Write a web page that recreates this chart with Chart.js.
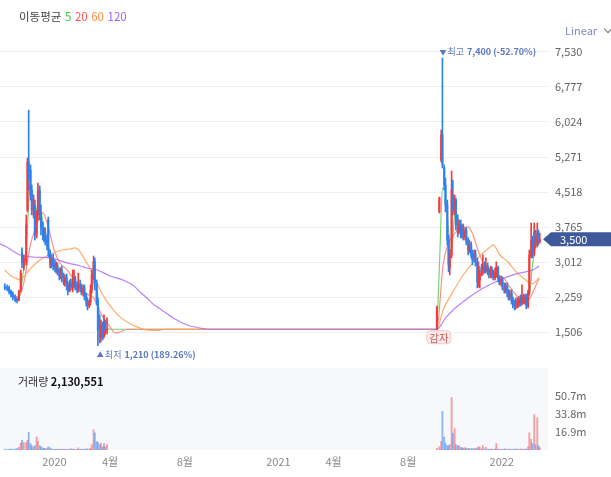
<!DOCTYPE html>
<html><head><meta charset="utf-8">
<script src="https://cdn.jsdelivr.net/npm/chart.js@4.4.1/dist/chart.umd.min.js"></script>
<style>
html,body{margin:0;padding:0;background:#fff;}
#wrap{position:relative;width:611px;height:477px;overflow:hidden;font-family:'Noto Sans CJK KR','Noto Sans',sans-serif;}
canvas{position:absolute;left:0;}
#pc{top:0;}
#vc{top:368px;}
#hdr{position:absolute;left:19px;top:8px;font-size:11.5px;color:#444;line-height:16px;white-space:nowrap;word-spacing:1px;}
#lin{position:absolute;left:565px;top:22px;font-size:11px;color:#7d8cb8;line-height:16px;white-space:nowrap;}
.chev{display:inline-block;width:5px;height:5px;border-right:1px solid #777;border-bottom:1px solid #777;transform:rotate(45deg);margin-left:8px;vertical-align:3px;}
#vh{position:absolute;left:18px;top:373px;font-size:11px;color:#333;line-height:16px;white-space:nowrap;}
#vh b{color:#111;font-weight:700;}
</style></head>
<body>
<div id="wrap">
<canvas id="pc" width="611" height="368"></canvas>
<canvas id="vc" width="611" height="109"></canvas>
<div id="hdr">이동평균 <span style="color:#44c844">5</span> <span style="color:#ff5252">20</span> <span style="color:#ff8c40">60</span> <span style="color:#9a66ff">120</span></div>
<div id="lin">Linear<span class="chev"></span></div>
<div id="vh">거래량 <b>2,130,551</b></div>
</div>
<script>
// ---- data: trading day = days since 2020-01-01 ----
const candleDays = [-81,-77,-74,-71,-68,-64,-61,-58,-55,-53,-50,-46,-44,-42,-39,-37,-34,-32,-29,-27,-24,-22,-19,-17,-15,-12,-10,-7,-5,-2,1,3,5,8,10,12,15,17,20,22,25,27,30,32,34,37,39,42,44,47,49,52,54,57,59,61,64,66,69,71,74,76,79,81,83,86,
625,629,632,634,637,639,642,644,646,649,651,654,656,659,661,664,666,668,671,673,676,678,681,683,686,688,691,693,695,698,700,703,705,708,710,713,715,717,720,722,725,727,730,732,735,737,740,742,744,747,749,752,754,757,759,762,764,767,769,771,774,776,779,781,784,786,789,791,793];
const openP = [2495,2475,2455,2370,2325,2260,2220,2195,2410,3230,2925,3015,4130,5165,4990,4560,4025,4240,3595,4025,4560,4090,3745,3530,3660,3485,3915,3230,2950,3100,2970,2840,2925,2820,2690,2840,2690,2560,2670,2520,2410,2560,2455,2520,2650,2520,2410,2540,2475,2345,2455,2280,2175,2065,2155,2410,2710,3015,2540,2195,1660,1380,1660,1420,1725,1530,
1565,4090,5205,5745,5035,4670,4240,3485,2885,3165,4455,4090,4345,3810,3660,3830,3595,3745,3550,3680,3445,3270,3380,3165,3055,3185,3015,2540,2625,2885,2775,2925,2820,2925,2820,2710,2840,2755,2670,2755,2885,2650,2540,2650,2475,2390,2495,2325,2240,2345,2195,2090,2045,2175,2090,2220,2130,2260,2155,2240,2065,2345,3140,3485,3185,3660,3380,3615,3445];
const highP = [2540,2520,2495,2410,2370,2305,2240,2410,2840,3315,3165,4025,5250,6280,5100,4670,4455,4345,4130,4710,4650,4240,3875,3745,3745,3595,3980,3270,3165,3185,3055,3015,2990,2885,2885,2925,2775,2735,2755,2585,2625,2650,2840,2840,2710,2585,2775,2625,2540,2520,2520,2345,2240,2195,2520,2840,3140,3100,2625,2240,1875,1765,1725,1875,1765,1810,
2065,4410,5850,7400,5100,4820,4345,3595,3270,4970,4775,4455,4390,4025,3915,3915,3810,3830,3745,3745,3530,3485,3445,3270,3270,3270,3100,3015,2840,2970,3165,3015,3100,2990,2885,2925,2905,2840,2885,3015,2925,2710,2710,2690,2560,2560,2560,2410,2410,2410,2260,2195,2240,2240,2280,2305,2520,2325,2305,2325,2410,3270,3850,3570,3850,3700,3850,3700,3635];
const lowP = [2410,2390,2325,2260,2195,2155,2130,2175,2370,2885,2840,2950,4090,4560,4345,4025,3960,3485,3530,3915,3915,3595,3485,3445,3380,3270,3120,2885,2885,2840,2800,2775,2735,2625,2650,2585,2520,2495,2410,2305,2370,2410,2370,2455,2410,2345,2370,2370,2305,2280,2195,2065,1980,2025,2090,2345,2625,2410,2090,1210,1270,1295,1335,1380,1445,1465,
1565,4065,5165,5035,4560,4090,3380,2800,2735,3100,4025,4025,3700,3550,3615,3530,3530,3485,3485,3380,3165,3205,3100,2950,3015,2925,2455,2475,2455,2710,2735,2775,2775,2735,2670,2670,2670,2625,2625,2690,2585,2520,2495,2410,2345,2345,2260,2195,2195,2110,2025,1980,2005,2025,2045,2065,2090,2110,2110,2005,2025,2300,3100,3100,3140,3315,3335,3380,3420];
const closeP = [2455,2435,2370,2305,2240,2195,2175,2370,2775,3015,3100,3810,5165,4775,4455,4130,4345,3595,4025,4560,4025,3745,3595,3660,3445,3355,3270,2970,3100,2925,2885,2950,2800,2710,2820,2670,2585,2670,2495,2390,2560,2475,2585,2670,2495,2410,2540,2455,2370,2455,2280,2155,2065,2155,2410,2735,3015,2560,2195,1550,1380,1660,1420,1725,1530,1565,
2025,4390,5745,5100,4670,4240,3485,2950,3165,4560,4130,4345,3810,3660,3830,3615,3745,3570,3680,3445,3270,3400,3165,3055,3205,3015,2585,2925,2775,2800,2925,2840,2925,2800,2735,2840,2735,2690,2800,2885,2650,2560,2650,2475,2410,2495,2325,2260,2345,2175,2090,2045,2175,2090,2220,2130,2260,2175,2240,2065,2345,3165,3485,3185,3660,3400,3615,3465,3500];
// volume in millions of shares
const volumeM = [0.8,0.6,0.7,0.9,0.8,1.0,1.5,2.5,6.5,9,7,6.7,9,16.6,6,4,3,4,12.3,8,4,3,2,1.5,1.5,1.2,3,2,1,0.8,0.7,0.6,0.8,0.7,0.6,0.7,0.8,0.6,0.7,0.6,0.7,1.2,0.9,0.7,0.6,0.6,2,0.7,0.6,0.8,0.7,0.9,1.0,0.8,1.5,5,19,16,8,7,5,6.5,3,6,3,5,
1.5,3,8,36,12,6,4,4,5,49,15.7,20,5,4,4,2.5,2,1.8,2.2,1.5,1.6,1.4,1.2,1.3,1.6,1.2,2,3,2.5,1,4,1,2.5,0.8,0.7,1,0.6,0.7,1,6,0.9,0.6,0.8,0.6,0.7,1.2,0.6,0.5,0.9,0.6,0.7,0.8,1.0,0.6,0.8,0.7,1.2,0.6,0.8,0.9,3,16,10,6,33,5,30,4,2.130551];
// moving averages
const ma5Days = [-81,-73,-64,-59,-55,-50,-46,-43,-40,-37,-32,-27,-22,-17,-12,-7,-2,4,11,17,24,30,37,43,50,57,61,66,70,73,76,79,83,88,92,623,625,627,630,634,638,641,644,647,650,653,656,659,664,669,674,679,684,689,695,702,708,715,721,728,735,741,748,754,761,767,772,777,782,787,792];
const ma5 = [2476,2411,2261,2196,2411,2884,3271,4024,4669,4562,4239,4132,4089,3744,3486,3228,3013,2884,2755,2626,2476,2540,2497,2454,2325,2153,2368,2669,2411,1938,1551,1486,1551,1572,1565,1565,1660,2196,3271,4600,4560,4200,3700,3250,3379,3900,4100,3960,3809,3658,3529,3314,3099,3013,2884,2884,2841,2798,2712,2626,2540,2411,2261,2153,2153,2153,2132,2411,3013,3379,3529];
const ma20Days = [-81,-73,-64,-56,-48,-40,-32,-24,-19,-10,-2,9,21,30,42,53,63,71,79,91,99,107,119,623,625,635,643,655,666,676,684,692,702,712,723,735,744,754,764,772,779,785,792];
const ma20 = [2476,2368,2261,2304,2691,3336,3701,3981,4067,3766,3336,2992,2841,2669,2476,2325,2261,2046,1831,1615,1486,1507,1565,1565,1572,2948,3379,3637,3744,3766,3594,3271,2948,2820,2755,2648,2476,2304,2153,2153,2282,2454,2669];
const ma60Days = [-81,-73,-64,-56,-45,-35,-19,-2,14,25,34,42,50,58,66,75,83,91,107,128,151,168,181,623,625,635,651,668,684,700,712,717,728,741,753,764,774,781,787,792];
const ma60 = [2841,2733,2669,2626,2777,2927,3099,3206,3271,3292,3314,3228,3056,2884,2669,2411,2218,2067,1831,1658,1551,1540,1565,1565,1565,1981,2368,2733,2992,3206,3336,3379,3163,3013,2820,2691,2583,2540,2605,2669];
const ma120Days = [-89,-81,-56,-35,-7,21,42,53,70,91,107,119,128,140,151,161,173,194,217,238,249,623,625,639,655,674,695,717,740,761,777,785,792];
const ma120 = [3400,3357,3163,3120,3099,2992,2927,2884,2841,2712,2648,2583,2519,2368,2239,2110,2003,1809,1658,1593,1565,1565,1565,1809,2024,2218,2411,2562,2691,2777,2820,2863,2927];
// axis ticks
const priceTicks = [1506,2259,3012,3765,4518,5271,6024,6777,7530];
const priceTickLabels = ['1,506','2,259','3,012','3,765','4,518','5,271','6,024','6,777','7,530'];
const volTicks = [16.9,33.8,50.7];
const volTickLabels = ['16.9m','33.8m','50.7m'];
const timeTickDays = [0,91,213,366,456,578,731];
const timeTickLabels = ['2020','4월','8월','2021','4월','8월','2022'];
const maNames = ['5','20','60','120'];

// ---- rendering ----
const FONT = "'Noto Sans CJK KR','Noto Sans',sans-serif";
Chart.defaults.font.family = FONT;
const RED = '#ef3d3d', BLUE = '#2d82f2';
const X_MIN = -88.9, X_MAX = 806.5;
const P_MIN = 861, P_MAX = 7788, V_MAX = 76.5;
const isUp = i => closeP[i] >= openP[i];
const candleColor = c => isUp(c.dataIndex) ? RED : BLUE;

const maDefs = [
  {days: ma5Days, vals: ma5, color: 'rgba(95,205,95,0.85)'},
  {days: ma20Days, vals: ma20, color: 'rgba(255,115,115,0.8)'},
  {days: ma60Days, vals: ma60, color: 'rgba(255,160,80,0.85)'},
  {days: ma120Days, vals: ma120, color: 'rgba(170,110,255,0.85)'}
];

function fmt(n){ return n.toLocaleString('en-US'); }

const annot = {
  id: 'annot',
  afterDraw(chart){
    const {ctx, chartArea: a} = chart;
    const xs = chart.scales.x, ys = chart.scales.y;
    const hi = Math.max(...highP), lo = Math.min(...lowP);
    const iH = highP.indexOf(hi), iL = lowP.indexOf(lo);
    const last = closeP[closeP.length - 1];
    const pH = ((last - hi) / hi * 100).toFixed(2);
    const pL = ((last - lo) / lo * 100).toFixed(2);
    ctx.save();
    ctx.textBaseline = 'middle';
    function label(x, y, arrow, word, val){
      ctx.fillStyle = '#5b79c2';
      ctx.font = '7px ' + FONT; ctx.textAlign = 'left';
      ctx.fillText(arrow, x, y);
      let tx = x + 8;
      ctx.font = '9px ' + FONT;
      ctx.fillText(word, tx, y);
      tx += ctx.measureText(word).width + 3;
      ctx.font = 'bold 9px ' + FONT;
      ctx.fillText(val, tx, y);
    }
    label(xs.getPixelForValue(candleDays[iH]) - 3, ys.getPixelForValue(hi) - 6, '▼', '최고', fmt(hi) + ' (' + pH + '%)');
    label(xs.getPixelForValue(candleDays[iL]) - 1, ys.getPixelForValue(lo) + 9, '▲', '최저', fmt(lo) + ' (' + pL + '%)');
    // capital reduction badge at resumption
    const bx = xs.getPixelForValue(625) + 2, by = ys.getPixelForValue(1565) + 8;
    ctx.beginPath();
    ctx.roundRect(bx - 12, by - 6.5, 24, 13, 4);
    ctx.fillStyle = '#fdecec'; ctx.fill();
    ctx.strokeStyle = '#f3c6c6'; ctx.lineWidth = 1; ctx.stroke();
    ctx.fillStyle = '#cc5a5a'; ctx.font = '10.5px ' + FONT; ctx.textAlign = 'center';
    ctx.fillText('감자', bx, by + 0.5);
    // current price tag
    const ty = ys.getPixelForValue(last);
    ctx.beginPath();
    ctx.moveTo(a.right - 5, ty);
    ctx.lineTo(a.right + 3, ty - 7);
    ctx.lineTo(chart.width, ty - 7);
    ctx.lineTo(chart.width, ty + 7);
    ctx.lineTo(a.right + 3, ty + 7);
    ctx.closePath();
    ctx.fillStyle = '#3e5a9a'; ctx.fill();
    ctx.fillStyle = '#fff'; ctx.font = '11px ' + FONT; ctx.textAlign = 'left';
    ctx.fillText(fmt(last), a.right + 12, ty + 0.5);
    ctx.restore();
  }
};

new Chart(document.getElementById('pc'), {
  type: 'bar',
  data: {
    datasets: [
      ...maDefs.map((m, k) => ({
        type: 'line', label: 'MA' + maNames[k],
        data: m.days.map((d, j) => ({x: d, y: m.vals[j]})),
        borderColor: m.color, borderWidth: 1.2, pointRadius: 0,
        cubicInterpolationMode: 'monotone', order: 10 - k
      })),
      {type: 'bar', label: 'wick', data: candleDays.map((d, i) => ({x: d, y: [lowP[i], highP[i]]})),
       backgroundColor: candleColor, barThickness: 1, grouped: false, order: 1},
      {type: 'bar', label: 'body', data: candleDays.map((d, i) => ({x: d, y: [openP[i], closeP[i]]})),
       backgroundColor: candleColor, barThickness: 1.4, grouped: false, minBarLength: 1, order: 0}
    ]
  },
  options: {
    responsive: false, animation: false,
    layout: {padding: {top: 40, bottom: 6, left: 0, right: 0}},
    plugins: {legend: {display: false}, tooltip: {enabled: false}},
    scales: {
      x: {type: 'linear', min: X_MIN, max: X_MAX, offset: false, display: false},
      y: {
        position: 'right', min: P_MIN, max: P_MAX,
        afterBuildTicks: s => { s.ticks = priceTicks.map(v => ({value: v})); },
        afterFit: s => { s.width = 63; s.paddingTop = 0; s.paddingBottom = 0; },
        ticks: {callback: v => priceTickLabels[priceTicks.indexOf(v)], color: '#666', font: {size: 11}, padding: 7, autoSkip: false},
        grid: {color: '#efefef', drawTicks: false},
        border: {display: false}
      }
    }
  },
  plugins: [annot]
});

const volBg = {
  id: 'volBg',
  beforeDraw(chart){
    const {ctx, chartArea: a} = chart;
    ctx.save(); ctx.fillStyle = '#f7f8fc';
    ctx.fillRect(a.left, 0, a.right - a.left, a.bottom);
    ctx.restore();
  }
};

new Chart(document.getElementById('vc'), {
  type: 'bar',
  data: {
    datasets: [{
      label: '거래량', data: candleDays.map((d, i) => ({x: d, y: volumeM[i]})),
      backgroundColor: c => isUp(c.dataIndex) ? 'rgba(240,100,100,0.6)' : 'rgba(70,140,240,0.6)',
      barThickness: 1.2, grouped: false
    }]
  },
  options: {
    responsive: false, animation: false,
    layout: {padding: 0},
    plugins: {legend: {display: false}, tooltip: {enabled: false}},
    scales: {
      x: {
        type: 'linear', min: X_MIN, max: X_MAX, offset: false,
        afterBuildTicks: s => { s.ticks = timeTickDays.map(v => ({value: v})); },
        afterFit: s => { s.height = 27; s.paddingLeft = 0; s.paddingRight = 0; },
        ticks: {callback: v => timeTickLabels[timeTickDays.indexOf(v)], autoSkip: false, maxRotation: 0, color: '#888', font: {size: 11}, padding: 5},
        grid: {display: false, drawTicks: false}, border: {display: false}
      },
      y: {
        position: 'right', min: 0, max: V_MAX,
        afterBuildTicks: s => { s.ticks = volTicks.map(v => ({value: v})); },
        afterFit: s => { s.width = 63; s.paddingTop = 0; s.paddingBottom = 0; },
        ticks: {callback: v => volTickLabels[volTicks.indexOf(v)], color: '#666', font: {size: 11}, padding: 7, autoSkip: false},
        grid: {display: false, drawTicks: false}, border: {display: false}
      }
    }
  },
  plugins: [volBg]
});
</script>
</body></html>
